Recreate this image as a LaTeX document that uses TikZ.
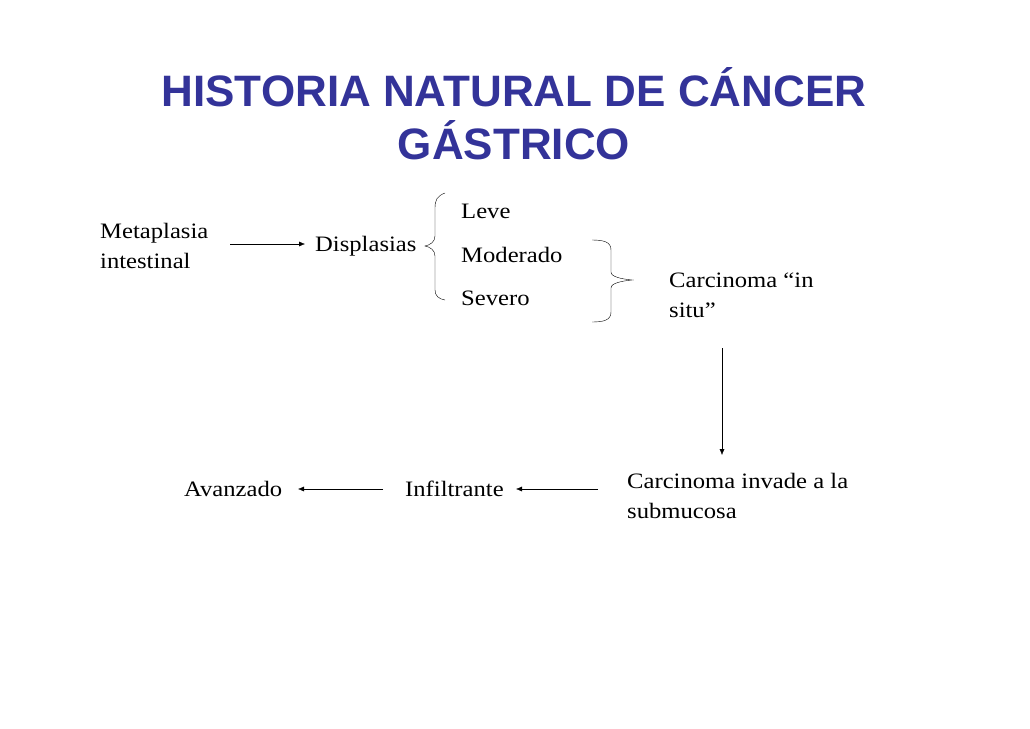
\documentclass[tikz,border=0pt]{standalone}
\usepackage{fontspec}
\setmainfont{Liberation Serif}[FakeStretch=1.12]
\newfontfamily\titlefont{Liberation Sans}
\definecolor{tblue}{HTML}{333399}
\usetikzlibrary{arrows.meta}
\begin{document}
\begin{tikzpicture}[x=1pt,y=-1pt,
  txt/.style={font=\fontsize{22}{30}\selectfont,inner sep=0pt,anchor=west,align=left},
  arr/.style={-{Latex[length=6pt,width=5pt]},thin},
  br/.style={thin}]
\useasboundingbox (0,0) rectangle (1030,728);
\node[font=\titlefont\bfseries\fontsize{44}{53}\selectfont,text=tblue,align=center] (title) at (514,114) {HISTORIA NATURAL DE CÁNCER\\GÁSTRICO};
\node[txt] (meta) at (100,246) {Metaplasia\\intestinal};
\node[txt] (disp) at (315,246) {Displasias};
\node[txt] (leve) at (461,211) {Leve};
\node[txt] (mod) at (461,255) {Moderado};
\node[txt] (sev) at (461,298) {Severo};
\node[txt] (cis) at (669,295) {Carcinoma “in\\situ”};
\node[txt] (inv) at (627,496) {Carcinoma invade a la\\submucosa};
\node[txt] (inf) at (405,489) {Infiltrante};
\node[txt] (ava) at (184,489) {Avanzado};
\coordinate (a1) at (230,244); \coordinate (a2) at (305,244);
\draw[arr] (a1) -- (a2);
\coordinate (d1) at (722,348); \coordinate (d2) at (722,455);
\draw[arr] (d1) -- (d2);
\coordinate (b1) at (598,489); \coordinate (b2) at (516,489);
\draw[arr] (b1) -- (b2);
\coordinate (c1) at (383,489); \coordinate (c2) at (298,489);
\draw[arr] (c1) -- (c2);
\draw[br] (445,193) .. controls (437,196) and (435,200) .. (435,208) -- (435,236) .. controls (435,242) and (430,245) .. (425,246) .. controls (430,247) and (435,250) .. (435,256) -- (435,290) .. controls (435,296) and (439,299) .. (445,300);
\draw[br] (592,240) .. controls (604,240) and (611,242) .. (611,250) -- (611,272) .. controls (611,277) and (622,279) .. (632,280) .. controls (622,281) and (611,283) .. (611,288) -- (611,312) .. controls (611,320) and (604,322) .. (592,322);
\end{tikzpicture}
\end{document}
